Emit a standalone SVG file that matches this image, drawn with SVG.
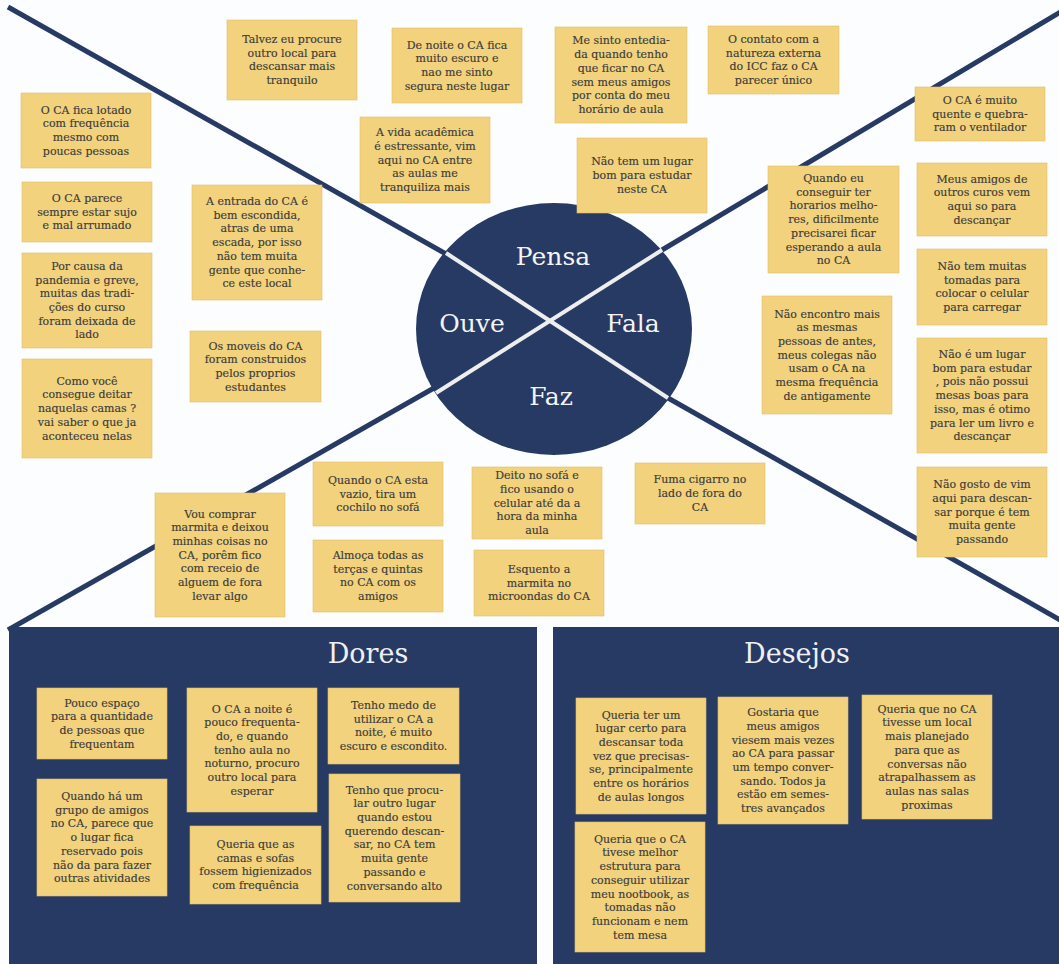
<svg xmlns="http://www.w3.org/2000/svg" width="1059" height="964" viewBox="0 0 1059 964">
  <style>
    .bg { fill: #fcfdfe; }
    .note rect { fill: #f2d27d; stroke: #e2c06a; stroke-width: 0.6; }
    .note text { font-family: "DejaVu Serif", "Liberation Serif", serif; font-size: 11px; fill: #3b3b3b; stroke: #3b3b3b; stroke-width: 0.15; text-anchor: middle; }
    .axis { stroke: #273a64; stroke-width: 5; fill: none; }
    .split { stroke: #eeeeee; stroke-width: 4; fill: none; }
    .quad { font-family: "DejaVu Serif", "Liberation Serif", serif; font-size: 25px; fill: #f4f4f4; text-anchor: middle; }
    .panel { fill: #273a64; }
    .title { font-family: "DejaVu Serif", "Liberation Serif", serif; font-size: 27px; fill: #eef0f4; text-anchor: middle; }
  </style>

  <rect class="bg" x="0" y="0" width="1059" height="964"/>

  <!-- diagonal axes of the empathy map -->
  <g id="connectors">
    <line class="axis" x1="8" y1="7" x2="446" y2="254"/>
    <line class="axis" x1="668" y1="398" x2="1062" y2="621"/>
    <line class="axis" x1="1062" y1="11" x2="662" y2="250"/>
    <line class="axis" x1="434" y1="388" x2="8" y2="630"/>
  </g>

  <!-- central disc with the four quadrants -->
  <g id="center">
    <ellipse cx="554" cy="329" rx="138" ry="126" fill="#273a64"/>
    <line class="split" x1="446" y1="253" x2="668" y2="398"/>
    <line class="split" x1="662" y1="250" x2="436" y2="393"/>
    <text class="quad" x="553" y="265">Pensa</text>
    <text class="quad" x="472" y="332">Ouve</text>
    <text class="quad" x="633" y="332">Fala</text>
    <text class="quad" x="551" y="405">Faz</text>
  </g>

  <!-- Pensa -->
  <g id="n-talvez" class="note"><rect x="227" y="20" width="130" height="80"/>
    <text x="292" y="43"><tspan x="292">Talvez eu procure</tspan><tspan x="292" dy="13.7">outro local para</tspan><tspan x="292" dy="13.7">descansar mais</tspan><tspan x="292" dy="13.7">tranquilo</tspan></text></g>
  <g id="n-noite-escuro" class="note"><rect x="392" y="28" width="130" height="75"/>
    <text x="457" y="48.5"><tspan x="457">De noite o CA fica</tspan><tspan x="457" dy="13.7">muito escuro e</tspan><tspan x="457" dy="13.7">nao me sinto</tspan><tspan x="457" dy="13.7">segura neste lugar</tspan></text></g>
  <g id="n-entediada" class="note"><rect x="555" y="27" width="132" height="96"/>
    <text x="621" y="44.4"><tspan x="621">Me sinto entedia-</tspan><tspan x="621" dy="13.7">da quando tenho</tspan><tspan x="621" dy="13.7">que ficar no CA</tspan><tspan x="621" dy="13.7">sem meus amigos</tspan><tspan x="621" dy="13.7">por conta do meu</tspan><tspan x="621" dy="13.7">horário de aula</tspan></text></g>
  <g id="n-natureza" class="note"><rect x="708" y="26" width="131" height="68"/>
    <text x="773.5" y="43"><tspan x="773.5">O contato com a</tspan><tspan x="773.5" dy="13.7">natureza externa</tspan><tspan x="773.5" dy="13.7">do ICC faz o CA</tspan><tspan x="773.5" dy="13.7">parecer único</tspan></text></g>
  <g id="n-vida-academica" class="note"><rect x="360" y="117" width="130" height="86"/>
    <text x="425" y="136.2"><tspan x="425">A vida acadêmica</tspan><tspan x="425" dy="13.7">é estressante, vim</tspan><tspan x="425" dy="13.7">aqui no CA entre</tspan><tspan x="425" dy="13.7">as aulas me</tspan><tspan x="425" dy="13.7">tranquiliza mais</tspan></text></g>
  <g id="n-sem-lugar-estudo" class="note"><rect x="577" y="138" width="130" height="75"/>
    <text x="642" y="165.4"><tspan x="642">Não tem um lugar</tspan><tspan x="642" dy="13.7">bom para estudar</tspan><tspan x="642" dy="13.7">neste CA</tspan></text></g>

  <!-- Ouve -->
  <g id="n-lotado" class="note"><rect x="21" y="93" width="130" height="75"/>
    <text x="86" y="113.5"><tspan x="86">O CA fica lotado</tspan><tspan x="86" dy="13.7">com frequência</tspan><tspan x="86" dy="13.7">mesmo com</tspan><tspan x="86" dy="13.7">poucas pessoas</tspan></text></g>
  <g id="n-sujo" class="note"><rect x="22" y="182" width="130" height="60"/>
    <text x="87" y="201.9"><tspan x="87">O CA parece</tspan><tspan x="87" dy="13.7">sempre estar sujo</tspan><tspan x="87" dy="13.7">e mal arrumado</tspan></text></g>
  <g id="n-pandemia" class="note"><rect x="22" y="253" width="130" height="95"/>
    <text x="87" y="269.9"><tspan x="87">Por causa da</tspan><tspan x="87" dy="13.7">pandemia e greve,</tspan><tspan x="87" dy="13.7">muitas das tradi-</tspan><tspan x="87" dy="13.7">ções do curso</tspan><tspan x="87" dy="13.7">foram deixada de</tspan><tspan x="87" dy="13.7">lado</tspan></text></g>
  <g id="n-camas" class="note"><rect x="22" y="359" width="130" height="99"/>
    <text x="87" y="384.7"><tspan x="87">Como você</tspan><tspan x="87" dy="13.7">consegue deitar</tspan><tspan x="87" dy="13.7">naquelas camas ?</tspan><tspan x="87" dy="13.7">vai saber o que ja</tspan><tspan x="87" dy="13.7">aconteceu nelas</tspan></text></g>
  <g id="n-entrada" class="note"><rect x="192" y="185" width="130" height="115"/>
    <text x="257" y="205"><tspan x="257">A entrada do CA é</tspan><tspan x="257" dy="13.7">bem escondida,</tspan><tspan x="257" dy="13.7">atras de uma</tspan><tspan x="257" dy="13.7">escada, por isso</tspan><tspan x="257" dy="13.7">não tem muita</tspan><tspan x="257" dy="13.7">gente que conhe-</tspan><tspan x="257" dy="13.7">ce este local</tspan></text></g>
  <g id="n-moveis" class="note"><rect x="190" y="331" width="131" height="71"/>
    <text x="255.5" y="349.5"><tspan x="255.5">Os moveis do CA</tspan><tspan x="255.5" dy="13.7">foram construidos</tspan><tspan x="255.5" dy="13.7">pelos proprios</tspan><tspan x="255.5" dy="13.7">estudantes</tspan></text></g>

  <!-- Fala -->
  <g id="n-quente" class="note"><rect x="915" y="87" width="130" height="54"/>
    <text x="980" y="103.9"><tspan x="980">O CA é muito</tspan><tspan x="980" dy="13.7">quente e quebra-</tspan><tspan x="980" dy="13.7">ram o ventilador</tspan></text></g>
  <g id="n-horarios" class="note"><rect x="768" y="166" width="131" height="107"/>
    <text x="833.5" y="182"><tspan x="833.5">Quando eu</tspan><tspan x="833.5" dy="13.7">conseguir ter</tspan><tspan x="833.5" dy="13.7">horarios melho-</tspan><tspan x="833.5" dy="13.7">res, dificilmente</tspan><tspan x="833.5" dy="13.7">precisarei ficar</tspan><tspan x="833.5" dy="13.7">esperando a aula</tspan><tspan x="833.5" dy="13.7">no CA</tspan></text></g>
  <g id="n-amigos-outros" class="note"><rect x="917" y="163" width="130" height="73"/>
    <text x="982" y="182.5"><tspan x="982">Meus amigos de</tspan><tspan x="982" dy="13.7">outros curos vem</tspan><tspan x="982" dy="13.7">aqui so para</tspan><tspan x="982" dy="13.7">descançar</tspan></text></g>
  <g id="n-tomadas" class="note"><rect x="917" y="249" width="130" height="76"/>
    <text x="982" y="270"><tspan x="982">Não tem muitas</tspan><tspan x="982" dy="13.7">tomadas para</tspan><tspan x="982" dy="13.7">colocar o celular</tspan><tspan x="982" dy="13.7">para carregar</tspan></text></g>
  <g id="n-mesmas-pessoas" class="note"><rect x="762" y="296" width="130" height="118"/>
    <text x="827" y="317.5"><tspan x="827">Não encontro mais</tspan><tspan x="827" dy="13.7">as mesmas</tspan><tspan x="827" dy="13.7">pessoas de antes,</tspan><tspan x="827" dy="13.7">meus colegas não</tspan><tspan x="827" dy="13.7">usam o CA na</tspan><tspan x="827" dy="13.7">mesma frequência</tspan><tspan x="827" dy="13.7">de antigamente</tspan></text></g>
  <g id="n-ler-livro" class="note"><rect x="917" y="338" width="130" height="115"/>
    <text x="982" y="358"><tspan x="982">Não é um lugar</tspan><tspan x="982" dy="13.7">bom para estudar</tspan><tspan x="982" dy="13.7">, pois não possui</tspan><tspan x="982" dy="13.7">mesas boas para</tspan><tspan x="982" dy="13.7">isso, mas é otimo</tspan><tspan x="982" dy="13.7">para ler um livro e</tspan><tspan x="982" dy="13.7">descançar</tspan></text></g>
  <g id="n-gente-passando" class="note"><rect x="917" y="467" width="130" height="90"/>
    <text x="982" y="488.2"><tspan x="982">Não gosto de vim</tspan><tspan x="982" dy="13.7">aqui para descan-</tspan><tspan x="982" dy="13.7">sar porque é tem</tspan><tspan x="982" dy="13.7">muita gente</tspan><tspan x="982" dy="13.7">passando</tspan></text></g>

  <!-- Faz -->
  <g id="n-marmita-comprar" class="note"><rect x="155" y="493" width="130" height="124"/>
    <text x="220" y="517.5"><tspan x="220">Vou comprar</tspan><tspan x="220" dy="13.7">marmita e deixou</tspan><tspan x="220" dy="13.7">minhas coisas no</tspan><tspan x="220" dy="13.7">CA, porêm fico</tspan><tspan x="220" dy="13.7">com receio de</tspan><tspan x="220" dy="13.7">alguem de fora</tspan><tspan x="220" dy="13.7">levar algo</tspan></text></g>
  <g id="n-cochilo" class="note"><rect x="313" y="462" width="130" height="64"/>
    <text x="378" y="483.9"><tspan x="378">Quando o CA esta</tspan><tspan x="378" dy="13.7">vazio, tira um</tspan><tspan x="378" dy="13.7">cochilo no sofá</tspan></text></g>
  <g id="n-almoca" class="note"><rect x="313" y="540" width="130" height="72"/>
    <text x="378" y="559"><tspan x="378">Almoça todas as</tspan><tspan x="378" dy="13.7">terças e quintas</tspan><tspan x="378" dy="13.7">no CA com os</tspan><tspan x="378" dy="13.7">amigos</tspan></text></g>
  <g id="n-celular-sofa" class="note"><rect x="472" y="467" width="130" height="72"/>
    <text x="537" y="479.2"><tspan x="537">Deito no sofá e</tspan><tspan x="537" dy="13.7">fico usando o</tspan><tspan x="537" dy="13.7">celular até da a</tspan><tspan x="537" dy="13.7">hora da minha</tspan><tspan x="537" dy="13.7">aula</tspan></text></g>
  <g id="n-microondas" class="note"><rect x="474" y="550" width="130" height="66"/>
    <text x="539" y="572.9"><tspan x="539">Esquento a</tspan><tspan x="539" dy="13.7">marmita no</tspan><tspan x="539" dy="13.7">microondas do CA</tspan></text></g>
  <g id="n-cigarro" class="note"><rect x="635" y="463" width="130" height="61"/>
    <text x="700" y="483.4"><tspan x="700">Fuma cigarro no</tspan><tspan x="700" dy="13.7">lado de fora do</tspan><tspan x="700" dy="13.7">CA</tspan></text></g>

  <!-- Dores -->
  <g id="dores">
    <rect class="panel" x="9" y="627" width="528" height="337"/>
    <text class="title" x="368" y="663">Dores</text>
  </g>
  <g id="d-espaco" class="note"><rect x="37" y="688" width="130" height="71"/>
    <text x="102" y="706.5"><tspan x="102">Pouco espaço</tspan><tspan x="102" dy="13.7">para a quantidade</tspan><tspan x="102" dy="13.7">de pessoas que</tspan><tspan x="102" dy="13.7">frequentam</tspan></text></g>
  <g id="d-grupo" class="note"><rect x="37" y="779" width="130" height="117"/>
    <text x="102" y="800"><tspan x="102">Quando há um</tspan><tspan x="102" dy="13.7">grupo de amigos</tspan><tspan x="102" dy="13.7">no CA, parece que</tspan><tspan x="102" dy="13.7">o lugar fica</tspan><tspan x="102" dy="13.7">reservado pois</tspan><tspan x="102" dy="13.7">não da para fazer</tspan><tspan x="102" dy="13.7">outras atividades</tspan></text></g>
  <g id="d-noite" class="note"><rect x="187" y="688" width="130" height="124"/>
    <text x="252" y="712.5"><tspan x="252">O CA a noite é</tspan><tspan x="252" dy="13.7">pouco frequenta-</tspan><tspan x="252" dy="13.7">do, e quando</tspan><tspan x="252" dy="13.7">tenho aula no</tspan><tspan x="252" dy="13.7">noturno, procuro</tspan><tspan x="252" dy="13.7">outro local para</tspan><tspan x="252" dy="13.7">esperar</tspan></text></g>
  <g id="d-higiene" class="note"><rect x="190" y="826" width="131" height="78"/>
    <text x="255.5" y="848"><tspan x="255.5">Queria que as</tspan><tspan x="255.5" dy="13.7">camas e sofas</tspan><tspan x="255.5" dy="13.7">fossem higienizados</tspan><tspan x="255.5" dy="13.7">com frequência</tspan></text></g>
  <g id="d-medo" class="note"><rect x="328" y="688" width="131" height="76"/>
    <text x="393.5" y="709"><tspan x="393.5">Tenho medo de</tspan><tspan x="393.5" dy="13.7">utilizar o CA a</tspan><tspan x="393.5" dy="13.7">noite, é muito</tspan><tspan x="393.5" dy="13.7">escuro e escondito.</tspan></text></g>
  <g id="d-barulho" class="note"><rect x="329" y="774" width="131" height="128"/>
    <text x="394.5" y="793.6"><tspan x="394.5">Tenho que procu-</tspan><tspan x="394.5" dy="13.7">lar outro lugar</tspan><tspan x="394.5" dy="13.7">quando estou</tspan><tspan x="394.5" dy="13.7">querendo descan-</tspan><tspan x="394.5" dy="13.7">sar, no CA tem</tspan><tspan x="394.5" dy="13.7">muita gente</tspan><tspan x="394.5" dy="13.7">passando e</tspan><tspan x="394.5" dy="13.7">conversando alto</tspan></text></g>

  <!-- Desejos -->
  <g id="desejos">
    <rect class="panel" x="553" y="627" width="506" height="337"/>
    <text class="title" x="797" y="663">Desejos</text>
  </g>
  <g id="w-descanso" class="note"><rect x="576" y="698" width="130" height="116"/>
    <text x="641" y="718.5"><tspan x="641">Queria ter um</tspan><tspan x="641" dy="13.7">lugar certo para</tspan><tspan x="641" dy="13.7">descansar toda</tspan><tspan x="641" dy="13.7">vez que precisas-</tspan><tspan x="641" dy="13.7">se, principalmente</tspan><tspan x="641" dy="13.7">entre os horários</tspan><tspan x="641" dy="13.7">de aulas longos</tspan></text></g>
  <g id="w-amigos" class="note"><rect x="718" y="697" width="130" height="127"/>
    <text x="783" y="716.2"><tspan x="783">Gostaria que</tspan><tspan x="783" dy="13.7">meus amigos</tspan><tspan x="783" dy="13.7">viesem mais vezes</tspan><tspan x="783" dy="13.7">ao CA para passar</tspan><tspan x="783" dy="13.7">um tempo conver-</tspan><tspan x="783" dy="13.7">sando. Todos ja</tspan><tspan x="783" dy="13.7">estão em semes-</tspan><tspan x="783" dy="13.7">tres avançados</tspan></text></g>
  <g id="w-planejado" class="note"><rect x="862" y="695" width="130" height="124"/>
    <text x="927" y="712.7"><tspan x="927">Queria que no CA</tspan><tspan x="927" dy="13.7">tivesse um local</tspan><tspan x="927" dy="13.7">mais planejado</tspan><tspan x="927" dy="13.7">para que as</tspan><tspan x="927" dy="13.7">conversas não</tspan><tspan x="927" dy="13.7">atrapalhassem as</tspan><tspan x="927" dy="13.7">aulas nas salas</tspan><tspan x="927" dy="13.7">proximas</tspan></text></g>
  <g id="w-estrutura" class="note"><rect x="575" y="822" width="130" height="130"/>
    <text x="640" y="842.7"><tspan x="640">Queria que o CA</tspan><tspan x="640" dy="13.7">tivese melhor</tspan><tspan x="640" dy="13.7">estrutura para</tspan><tspan x="640" dy="13.7">conseguir utilizar</tspan><tspan x="640" dy="13.7">meu nootbook, as</tspan><tspan x="640" dy="13.7">tomadas não</tspan><tspan x="640" dy="13.7">funcionam e nem</tspan><tspan x="640" dy="13.7">tem mesa</tspan></text></g>
</svg>
